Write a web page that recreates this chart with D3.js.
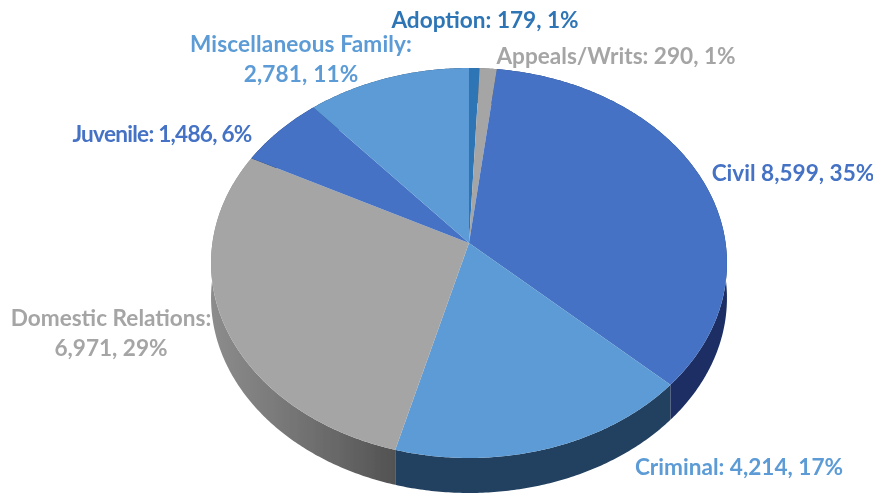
<!DOCTYPE html>
<html><head><meta charset="utf-8">
<style>html,body{margin:0;padding:0;background:#fff}svg{display:block}text{font-family:Lato,"Open Sans",sans-serif;font-weight:700}</style>
<script src="https://d3js.org/d3.v7.min.js"></script></head>
<body><svg id="c" width="873" height="497"></svg>
<script>
const categories=["Adoption","Appeals/Writs","Civil","Criminal","Domestic Relations","Juvenile","Miscellaneous Family"];
const values=[179,290,8599,4214,6971,1486,2781];
const percents=[1,1,35,17,29,6,11];
const topColors=["#2e75b6","#a5a5a5","#4472c4","#5b9bd5","#a5a5a5","#4472c4","#5b9bd5"];
const wallColors=["#1b3f66","#666666","#1b2f63","#234060","url(#grayWall)","#1b2f63","#234060"];
const labelLines=[["Adoption: 179, 1%"],["Appeals/Writs: 290, 1%"],["Civil 8,599, 35%"],["Criminal: 4,214, 17%"],["Domestic Relations:","6,971, 29%"],["Juvenile: 1,486, 6%"],["Miscellaneous Family:","2,781, 11%"]];
const labelX=[485,616,793,739,111,162,301];
const labelY=[28,64,181,475,326,142,52];
const labelSpacing=[0,0,0,0,0,-0.75,0.15];

const svg=d3.select("#c");
const defs=svg.append("defs");
const g=defs.append("linearGradient").attr("id","grayWall").attr("gradientUnits","userSpaceOnUse")
  .attr("x1",212).attr("x2",396).attr("y1",0).attr("y2",0);
[[0,"#8c8c8c"],[0.35,"#7a7a7a"],[0.7,"#666"],[1,"#525252"]].forEach(s=>g.append("stop").attr("offset",s[0]).attr("stop-color",s[1]));
defs.append("filter").attr("id","soft").append("feGaussianBlur").attr("stdDeviation",0.5);

// Perspective projection of a unit disc onto the tilted pie surface
const cx=469,apexY=243,k=-0.1026,a=168,c=256.6,depth=35;
const proj=t=>{const u=Math.sin(t),v=-Math.cos(t),d=1+k*v;return [cx+c*u/d,(a*v+apexY)/d];};
const arcs=d3.pie().sort(null).value(d=>d)(values);
const rim=(s,e)=>{const n=Math.max(2,Math.ceil((e-s)/0.01));return d3.range(n+1).map(i=>proj(s+(e-s)*i/n));};
const line=d3.line();
const root=svg.append("g").attr("filter","url(#soft)");

// walls
root.append("g").selectAll("path").data(arcs).join("path")
  .attr("d",d=>{const r=rim(d.startAngle,d.endAngle);return line(r.concat(r.slice().reverse().map(p=>[p[0],p[1]+depth])))+"Z";})
  .attr("fill",(d,i)=>wallColors[i]);
// top
root.append("g").selectAll("path").data(arcs).join("path")
  .attr("d",d=>line([[cx,apexY]].concat(rim(d.startAngle,d.endAngle)))+"Z")
  .attr("fill",(d,i)=>topColors[i]);
// labels
const t=root.append("g").selectAll("text").data(labelLines).join("text")
  .attr("text-anchor","middle").attr("font-size",22.6).attr("fill",(d,i)=>topColors[i])
  .attr("letter-spacing",(d,i)=>labelSpacing[i])
  .attr("x",(d,i)=>labelX[i]).attr("y",(d,i)=>labelY[i]);
t.selectAll("tspan").data((d,i)=>d.map(s=>({s,i}))).join("tspan")
  .attr("x",d=>labelX[d.i]).attr("dy",(d,j)=>j?30:0).text(d=>d.s);
</script></body></html>
